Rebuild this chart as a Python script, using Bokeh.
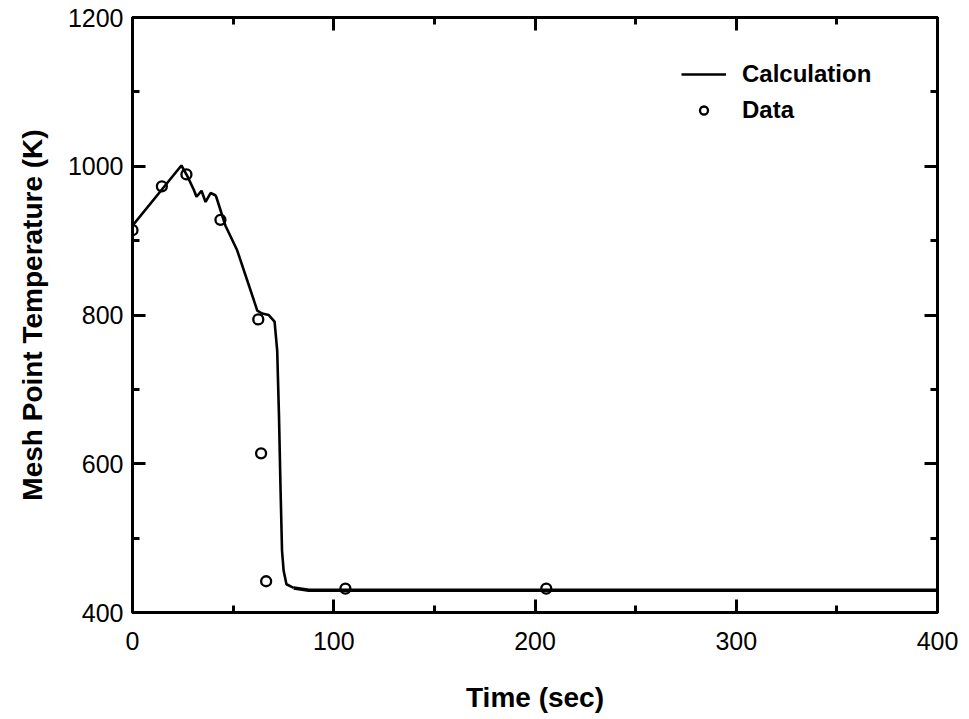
from bokeh.plotting import figure
from bokeh.models import (Range1d, SingleIntervalTicker, LinearAxis, Legend,
                          LegendItem, ColumnDataSource, CustomJSTickFormatter)
from bokeh.embed import file_html
from bokeh.resources import INLINE

# Calculation curve (time in s, temperature in K)
calc_time = [0, 24.3, 27.2, 30.5, 31.8, 34.3, 36.3, 38.8, 41.2, 41.6, 46.2, 52.0,
             62.0, 64.4, 67.7, 68.6, 70.6, 71.9, 72.8, 73.5, 74.3, 75.1, 76.5,
             80.1, 87.6, 400]
calc_temp = [920, 1001, 987, 968, 959, 967, 952, 964, 961, 959, 920, 887,
             806, 802, 800, 797, 791, 752, 663, 573, 483, 456, 438,
             433, 430, 430]

# Measured data
data_time = [0, 14.6, 26.8, 43.7, 62.5, 63.9, 66.4, 105.8, 205.6]
data_temp = [914, 973, 989, 928, 794, 614, 442, 432, 432]

x_min, x_max, x_step = 0, 400, 100
y_min, y_max, y_step = 400, 1200, 200

FONT = "Liberation Sans"

p = figure(frame_width=805, frame_height=595,
           x_range=Range1d(x_min, x_max), y_range=Range1d(y_min, y_max),
           output_backend="svg", toolbar_location=None,
           x_axis_location=None, y_axis_location=None,
           min_border_left=132, min_border_top=17, min_border_right=28,
           min_border_bottom=100, background_fill_color="white",
           border_fill_color="white")
p.grid.visible = False
p.outline_line_color = "black"
p.outline_line_width = 3


def make_axis(step, show_labels, label=""):
    ax = LinearAxis(ticker=SingleIntervalTicker(interval=step, num_minor_ticks=2))
    ax.axis_line_width = 3
    ax.axis_line_color = "black"
    ax.major_tick_in = 13
    ax.major_tick_out = 0
    ax.minor_tick_in = 7
    ax.minor_tick_out = 0
    ax.major_tick_line_width = 3
    ax.minor_tick_line_width = 3
    ax.major_tick_line_color = "black"
    ax.minor_tick_line_color = "black"
    if show_labels:
        ax.major_label_text_font = FONT
        ax.major_label_text_font_size = "25px"
        ax.major_label_text_color = "black"
        ax.axis_label = label
        ax.axis_label_text_font = FONT
        ax.axis_label_text_font_style = "bold"
        ax.axis_label_text_font_size = "28px"
        ax.axis_label_text_color = "black"
    else:
        ax.formatter = CustomJSTickFormatter(code="return ''")
        ax.major_label_text_font_size = "0px"
        ax.major_label_standoff = 0
    return ax


xb = make_axis(x_step, True, "Time (sec)")
xb.major_label_standoff = 19
xb.axis_label_standoff = 29
yl = make_axis(y_step, True, "Mesh Point Temperature (K)")
yl.major_label_standoff = 9
yl.axis_label_standoff = 17
xt = make_axis(x_step, False)
yr = make_axis(y_step, False)
p.add_layout(xb, "below")
p.add_layout(yl, "left")
p.add_layout(xt, "above")
p.add_layout(yr, "right")

# split the calculated curve: the long flat tail is drawn a bit heavier
split = 24
src_a = ColumnDataSource(dict(t=calc_time[:split], T=calc_temp[:split]))
src_b = ColumnDataSource(dict(t=calc_time[split - 1:], T=calc_temp[split - 1:]))
line_a = p.line("t", "T", source=src_a, line_color="black", line_width=2.6)
line_b = p.line("t", "T", source=src_b, line_color="black", line_width=3.5)

src_d = ColumnDataSource(dict(t=data_time, T=data_temp))
circ = p.scatter("t", "T", source=src_d, marker="circle", size=10,
                 fill_color="white", fill_alpha=0, line_color="black", line_width=2.3)

legend = Legend(items=[LegendItem(label="Calculation", renderers=[line_a]),
                       LegendItem(label="Data", renderers=[circ])],
                location=(549, 488))
legend.glyph_width = 45
legend.glyph_height = 20
legend.label_standoff = 16
legend.label_height = 20
legend.spacing = 8
legend.padding = 0
legend.margin = 0
legend.border_line_color = None
legend.background_fill_alpha = 0
legend.label_text_font = FONT
legend.label_text_font_style = "bold"
legend.label_text_font_size = "24px"
legend.label_text_color = "black"
p.add_layout(legend)

open("out.html", "w").write(file_html(p, INLINE))
